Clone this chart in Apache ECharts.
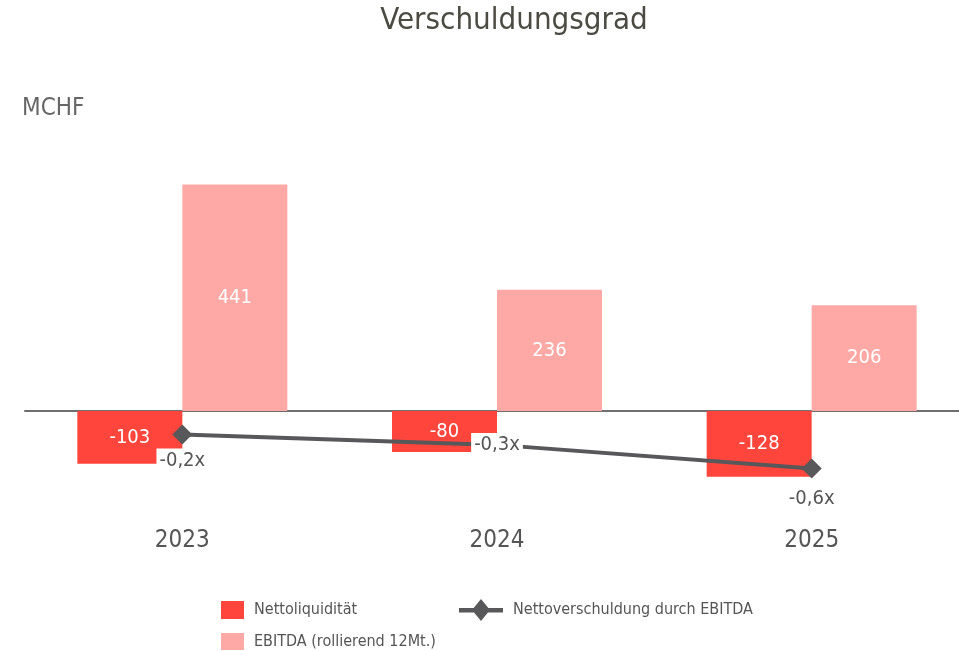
<!DOCTYPE html>
<html>
<head>
<meta charset="utf-8">
<script src="https://cdn.jsdelivr.net/npm/echarts@6/dist/echarts.min.js"></script>
<style>
  html, body { margin: 0; padding: 0; background: #fff; overflow: hidden; }
  /* etwas breiter als das Fenster: die Nulllinie läuft rechts aus dem Bild */
  #chart { width: 972px; height: 651px; }
</style>
</head>
<body>
<div id="chart"></div>
<script>
// Kategorien und Werte
const years = ["2023", "2024", "2025"];
const nettoliquiditaet = [-103, -80, -128];
const ebitda = [441, 236, 206];
const verschuldungsgrad = [-0.23, -0.33, -0.56];

const font = "'DejaVu Sans Condensed', 'Liberation Sans Narrow', sans-serif";
const fmtX = (v) => v.toFixed(1).replace(".", ",") + "x";
const legendText = { fontSize: 16, color: "#555", fontFamily: font, padding: [0, 0, 0, 5] };

const chart = echarts.init(document.getElementById("chart"));
const option = {
  animation: false,
  textStyle: { fontFamily: font },
  title: {
    text: "Verschuldungsgrad",
    left: 509,
    textAlign: "center",
    top: 0,
    textStyle: { fontFamily: font, fontSize: 31, fontWeight: "normal", color: "#4b4b43" },
  },
  graphic: [
    {
      type: "text",
      left: 22,
      top: 97,
      style: { text: "MCHF", font: "24px " + font, fill: "#666" },
    },
  ],
  grid: { left: 25, width: 944, top: 180, height: 308 },
  xAxis: {
    type: "category",
    data: years,
    axisLine: { onZero: true, lineStyle: { color: "#6e6e6e", width: 2 } },
    axisTick: { show: false },
    axisLabel: { margin: 41, fontSize: 24, color: "#555", fontFamily: font },
  },
  yAxis: [
    { type: "value", min: -150, max: 450, show: false, splitLine: { show: false } },
    { type: "value", min: -0.75, max: 2.25, show: false, splitLine: { show: false } },
  ],
  legend: [
    {
      left: 216, top: 596, itemWidth: 23, itemHeight: 18,
      data: [{ name: "Nettoliquidität", icon: "rect" }],
      textStyle: legendText,
    },
    {
      left: 454, top: 594, itemWidth: 44, itemHeight: 22,
      data: [{
        name: "Nettoverschuldung durch EBITDA",
        // Linie mit Raute wie im Original
        icon: "path://M0 9L44 9L44 13.5L0 13.5Z M22 0L31 11L22 22L13 11Z",
      }],
      itemStyle: { color: "#58585a", borderWidth: 0 },
      textStyle: legendText,
    },
    {
      left: 216, top: 628, itemWidth: 23, itemHeight: 17,
      data: [{ name: "EBITDA (rollierend 12Mt.)", icon: "rect" }],
      textStyle: legendText,
    },
  ],
  series: [
    {
      name: "Nettoliquidität",
      type: "bar",
      data: nettoliquiditaet,
      barWidth: 105,
      barGap: "0%",
      itemStyle: { color: "#ff453c" },
      label: { show: true, position: "inside", color: "#fff", fontSize: 20, fontFamily: font },
    },
    {
      name: "EBITDA (rollierend 12Mt.)",
      type: "bar",
      data: ebitda,
      barWidth: 105,
      barGap: "0%",
      itemStyle: { color: "#ffa9a6" },
      label: { show: true, position: "inside", color: "#fff", fontSize: 20, fontFamily: font },
    },
    {
      name: "Nettoverschuldung durch EBITDA",
      type: "line",
      yAxisIndex: 1,
      data: verschuldungsgrad.map((v, i) => ({
        value: v,
        label:
          i === 1
            ? { position: "inside" }
            : { position: "bottom", distance: i === 0 ? 4 : 8 },
      })),
      symbol: "diamond",
      symbolSize: 20,
      lineStyle: { color: "#58585a", width: 4 },
      itemStyle: { color: "#58585a" },
      z: 5,
      label: {
        show: true,
        formatter: (p) => fmtX(p.value),
        fontSize: 20,
        color: "#555",
        fontFamily: font,
        backgroundColor: "#fff",
        padding: [2, 3],
      },
    },
  ],
};
chart.setOption(option);
</script>
</body>
</html>
